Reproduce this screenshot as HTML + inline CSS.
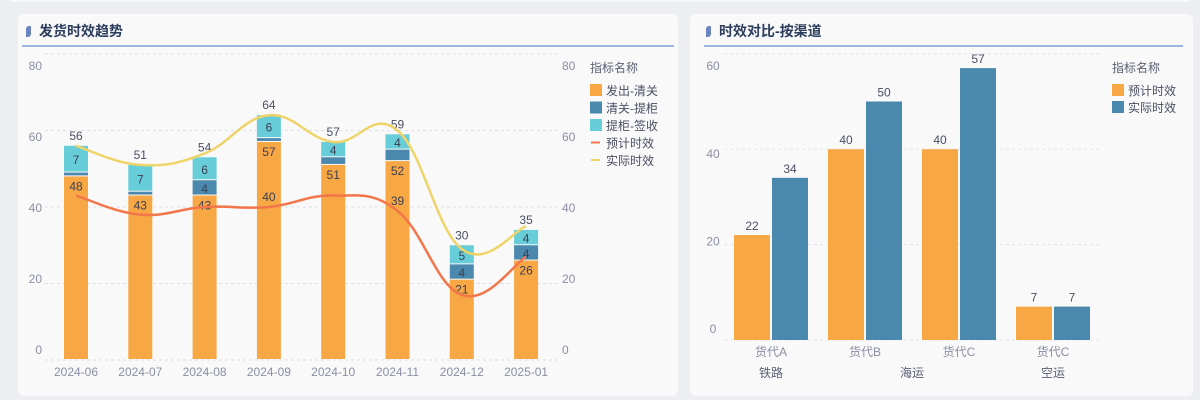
<!DOCTYPE html>
<html><head><meta charset="utf-8">
<style>
html,body{margin:0;padding:0;}
body{width:1200px;height:400px;background:#eceef2;position:relative;overflow:hidden;font-family:"Liberation Sans","Noto Sans CJK SC",sans-serif;}
.topbar{position:absolute;left:8px;top:-10px;width:1184px;height:12px;background:#f7f8fa;border-radius:6px;}
.panel{position:absolute;top:14px;height:382px;background:#f9f9fa;border-radius:6px;}
.title{position:absolute;left:26px;top:7px;font-size:14px;font-weight:bold;color:#2c3e5c;}
.title:before{content:"";display:inline-block;width:5px;height:11px;background:#6c86c0;border-radius:3px 0 3px 0;margin-right:8px;vertical-align:-1px;}
.hline{position:absolute;left:4px;right:4px;top:31px;height:2px;background:#9db5df;}
svg{position:absolute;left:0;top:0;}
</style></head><body>
<div class="topbar"></div>
<div class="panel" style="left:18px;width:660px">
 <div class="title" style="left:8px">发货时效趋势</div>
 <div class="hline"></div>
</div>
<div class="panel" style="left:690px;width:503px">
 <div class="title" style="left:16px">时效对比-按渠道</div>
 <div class="hline" style="left:14px;right:10px"></div>
</div>
<svg id="c" width="1200" height="400"></svg>
<script>
const months=["2024-06","2024-07","2024-08","2024-09","2024-10","2024-11","2024-12","2025-01"];
const seg1=[48,43,43,57,51,52,21,26];
const seg2=[1,1,4,1,2,3,4,4];
const seg3=[7,7,6,6,4,4,5,4];
const totals=[56,51,54,64,57,59,30,35];
const planned=[43,38,40,40,43,39,17,27];
const actual=[56,51,54,64,57,60,29,35];
const leftTicks=[0,20,40,60,80];
const channels=["货代A","货代B","货代C","货代C"];
const groups=[["铁路",0,0],["海运",1,2],["空运",3,3]];
const chPlanned=[22,40,40,7];
const chActual=[34,50,57,7];
const rightTicks=[0,20,40,60];

const svg=document.getElementById('c');
const NS="http://www.w3.org/2000/svg";
function mk(t,a,txt){const e=document.createElementNS(NS,t);for(const k in a)e.setAttribute(k,a[k]);if(txt!==undefined)e.textContent=txt;svg.appendChild(e);return e;}
const C1="#f8a745",C2="#4a89ad",C3="#67cdd8",CR="#f2764a",CY="#efd46a";
const TXT="#8a8fa3";

// left chart
const y1=v=>360-v*3.825;
const yl1=v=>354-v*3.55;
const x1=i=>76+i*64.3;
leftTicks.forEach(t=>{
 let g=mk('line',{x1:45,x2:558,y1:y1(t),y2:y1(t),stroke:"#dcdfe6","stroke-dasharray":"3,3"});
 
 const ly=yl1(t);
 let a=mk('text',{x:42,y:ly,"font-size":12,fill:TXT,"text-anchor":"end"},t);
 
 let b=mk('text',{x:562,y:ly,"font-size":12,fill:TXT},t);
 
});
months.forEach((m,i)=>{
 const cx=x1(i),w=24;let base=0;
 [[seg1,C1,'bar-dispatch'],[seg2,C2,'bar-clearance'],[seg3,C3,'bar-pickup']].forEach(([arr,col,nm])=>{
  const v=arr[i];const top=y1(base+v),bot=y1(base);
  let r=mk('rect',{x:cx-w/2,y:top,width:w,height:Math.max(bot-top-1,0.8),fill:col});
  
  if(v>=4){let t=mk('text',{x:cx,y:(nm==='bar-dispatch'?top+14:(top+bot)/2+5),"font-size":12,fill:"#3a3f52","text-anchor":"middle"},v);
   }
  base+=v;
 });
 let tl=mk('text',{x:cx,y:y1(base)-6,"font-size":12,fill:"#4a4f62","text-anchor":"middle"},totals[i]);
 
 let xl=mk('text',{x:cx,y:376,"font-size":12,fill:TXT,"text-anchor":"middle"},m);
 
});
function smooth(arr,xf,yf){
 const p=arr.map((v,i)=>[xf(i),yf(v)]);let d="M"+p[0][0]+","+p[0][1];
 for(let i=0;i<p.length-1;i++){const p0=p[Math.max(i-1,0)],p1=p[i],p2=p[i+1],p3=p[Math.min(i+2,p.length-1)];const k=0.2;
  d+=` C${p1[0]+(p2[0]-p0[0])*k},${p1[1]+(p2[1]-p0[1])*k} ${p2[0]-(p3[0]-p1[0])*k},${p2[1]-(p3[1]-p1[1])*k} ${p2[0]},${p2[1]}`;}
 return d;}
let lp=mk('path',{d:smooth(planned,x1,y1),fill:"none",stroke:CR,"stroke-width":2.5});

let la=mk('path',{d:smooth(actual,x1,y1),fill:"none",stroke:CY,"stroke-width":2.5});

[3,5].forEach(i=>{let t=mk('text',{x:x1(i),y:y1(planned[i])-6,"font-size":12,fill:"#3a3f52","text-anchor":"middle"},planned[i]);
 });
// left legend
let lt=mk('text',{x:590,y:72,"font-size":12,fill:"#5a5f72"},"指标名称");

[["发出-清关",C1,"rect"],["清关-提柜",C2,"rect"],["提柜-签收",C3,"rect"],["预计时效",CR,"line"],["实际时效",CY,"line"]].forEach(([n,c,k],i)=>{
 const yy=90+i*17.5;
 let s=k==="rect"?mk('rect',{x:590,y:yy-6,width:12,height:12,fill:c}):mk('line',{x1:591,x2:600,y1:yy,y2:yy,stroke:c,"stroke-width":2});
 
 let t=mk('text',{x:606,y:yy+5,"font-size":12,fill:"#4a4f62"},n);
 
});

// right chart
const y2=v=>340-v*4.77;
const yl2=v=>333-v*4.38;
const xc=i=>771+i*94;
rightTicks.forEach(t=>{
 let g=mk('line',{x1:724,x2:1100,y1:y2(t),y2:y2(t),stroke:"#e2e4ea","stroke-dasharray":"3,3"});
 
 let a=mk('text',{x:713,y:yl2(t),"font-size":12,fill:TXT,"text-anchor":"middle"},t);
 
});
channels.forEach((c,i)=>{
 const cx=xc(i);
 [[chPlanned,C1,-37,'bar-planned'],[chActual,C2,1,'bar-actual']].forEach(([arr,col,off,nm])=>{
  const v=arr[i];
  let r=mk('rect',{x:cx+off,y:y2(v),width:36,height:340-y2(v),fill:col});
  
  let t=mk('text',{x:cx+off+18,y:y2(v)-5,"font-size":12,fill:"#4a4f62","text-anchor":"middle"},v);
  
 });
 let xl=mk('text',{x:cx,y:356,"font-size":12,fill:TXT,"text-anchor":"middle"},c);
 
});
groups.forEach(([n,a,b])=>{let t=mk('text',{x:(xc(a)+xc(b))/2,y:377,"font-size":12,fill:"#5a5f72","text-anchor":"middle"},n);
 });
let rt=mk('text',{x:1112,y:72,"font-size":12,fill:"#5a5f72"},"指标名称");

[["预计时效",C1],["实际时效",C2]].forEach(([n,c],i)=>{const yy=90+i*17;
 let s=mk('rect',{x:1112,y:yy-6,width:12,height:12,fill:c});
 
 let t=mk('text',{x:1128,y:yy+5,"font-size":12,fill:"#4a4f62"},n);
 
});
</script>
</body></html>
